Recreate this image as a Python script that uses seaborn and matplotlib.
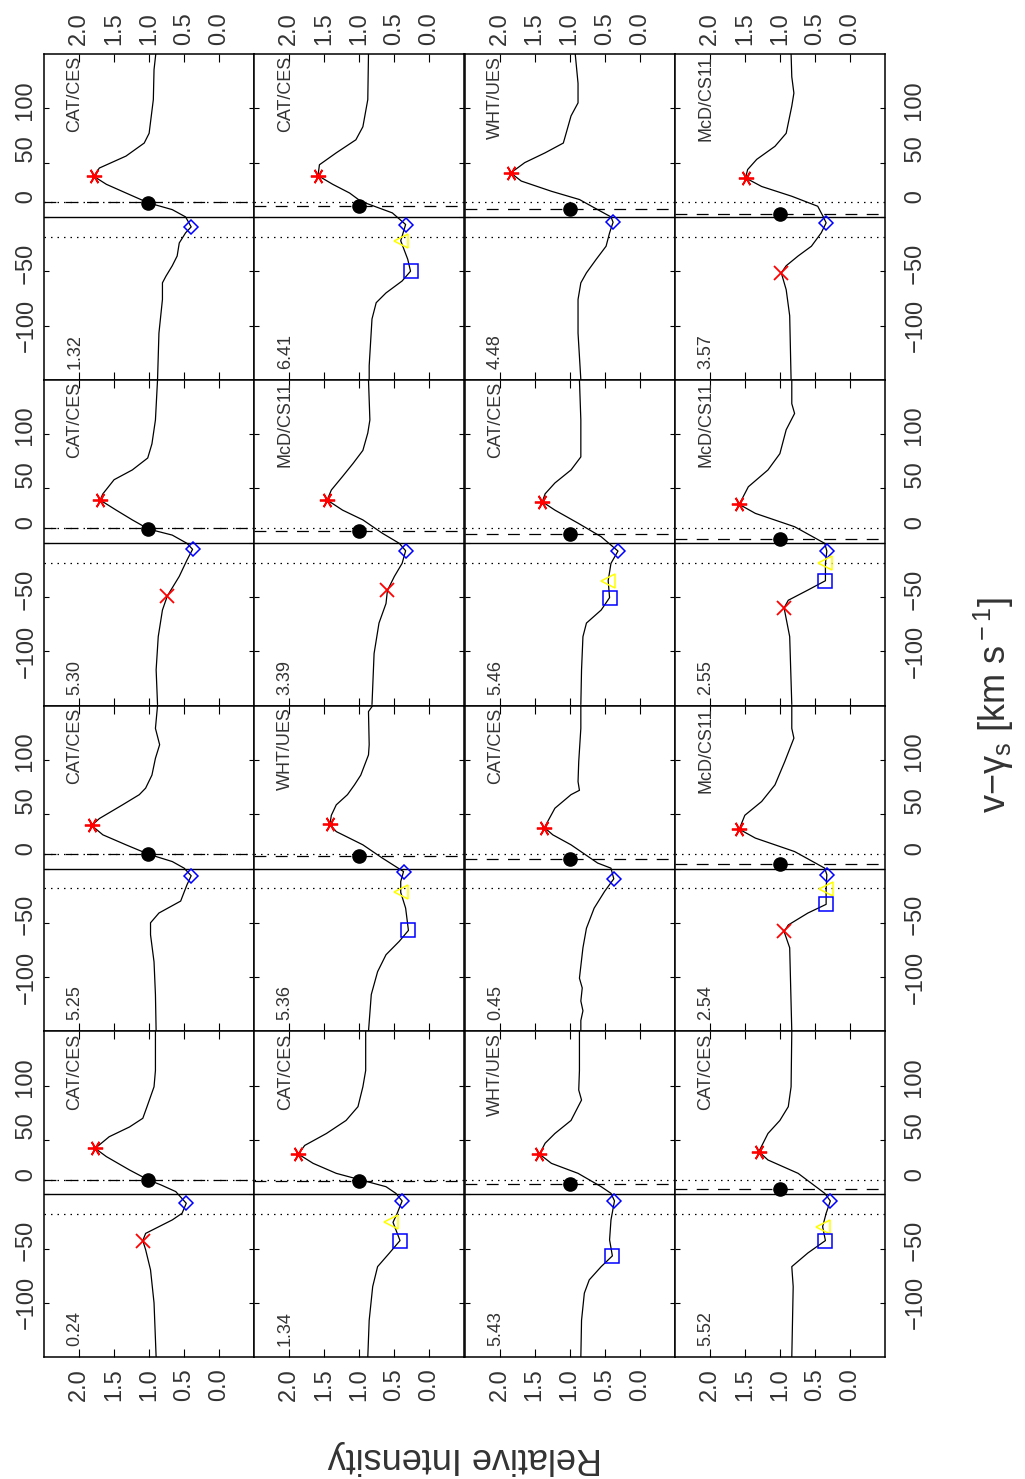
import logging
import numpy as np
import pandas as pd
import matplotlib
matplotlib.use("Agg")
import matplotlib.pyplot as plt
import seaborn as sns

logging.getLogger("matplotlib.font_manager").setLevel(logging.ERROR)

# ---------------- data ----------------
INSTRUMENTS = [["CAT/CES", "CAT/CES", "WHT/UES", "McD/CS11"],
               ["CAT/CES", "McD/CS11", "CAT/CES", "McD/CS11"],
               ["CAT/CES", "WHT/UES", "CAT/CES", "McD/CS11"],
               ["CAT/CES", "CAT/CES", "WHT/UES", "CAT/CES"]]
PHASES = [["1.32", "6.41", "4.48", "3.57"],
          ["5.30", "3.39", "5.46", "2.55"],
          ["5.25", "5.36", "0.45", "2.54"],
          ["0.24", "1.34", "5.43", "5.52"]]

INT_TICKS = [2.0, 1.5, 1.0, 0.5, 0.0]
INT_TICK_LABELS = ["2.0", "1.5", "1.0", "0.5", "0.0"]
VEL_TICKS = [-100, -50, 0, 50, 100]
VEL_TICK_LABELS = ["\u2212100", "  \u221250", "      0", "    50", "  100"]

# line profiles (velocity km/s, relative intensity), one pair per panel
VEL_R0C0 = [150, 135.6, 108, 77, 68, 56, 45, 37.4, 30, 22, 12.9, 6.7, 0, -9.2, -14.7, -24, -36, -45, -54.6, -60.7, -76, -107, -150]
INT_R0C0 = [0.905, 0.93, 0.94, 1.0, 1.07, 1.33, 1.71, 1.79, 1.61, 1.33, 1.01, 0.67, 0.48, 0.40, 0.48, 0.57, 0.60, 0.67, 0.76, 0.81, 0.81, 0.86, 0.88]
VEL_R0C1 = [150, 108, 83, 71, 59, 48, 38, 30, 22, 14.4, 3.7, -7, -22, -39, -50, -59, -70, -79, -94, -137, -150]
INT_R0C1 = [0.87, 0.88, 0.95, 1.05, 1.33, 1.57, 1.59, 1.38, 1.14, 0.98, 0.53, 0.34, 0.41, 0.31, 0.27, 0.39, 0.62, 0.76, 0.82, 0.86, 0.86]
VEL_R0C2 = [150, 123, 105, 93, 77, 68, 59, 50, 40.5, 33, 23.6, 16, 6.7, 0, -4.9, -14.7, -27, -39, -51.5, -60.7, -76, -107, -150]
INT_R0C2 = [0.92, 0.88, 0.88, 0.98, 1.05, 1.09, 1.35, 1.64, 1.84, 1.69, 1.26, 0.86, 0.60, 0.41, 0.38, 0.43, 0.48, 0.62, 0.76, 0.84, 0.88, 0.88, 0.84]
VEL_R0C3 = [150, 129, 114, 102, 77, 65, 53, 43.6, 35.9, 28, 19, 9.8, 0, -5.5, -14.7, -27, -36, -45, -51.5, -67, -91, -150]
INT_R0C3 = [0.84, 0.83, 0.80, 0.83, 0.91, 1.07, 1.33, 1.46, 1.49, 1.26, 0.83, 0.46, 0.38, 0.34, 0.41, 0.55, 0.74, 0.91, 0.98, 0.91, 0.86, 0.84]

VEL_R1C0 = [150, 113, 91, 78, 67, 58, 45, 39.3, 30, 21, 12.6, 7, -0.6, -6.1, -16, -31, -49, -62, -86.5, -117, -149]
INT_R1C0 = [0.88, 0.91, 0.96, 1.02, 1.24, 1.50, 1.66, 1.70, 1.47, 1.24, 1.01, 0.67, 0.46, 0.38, 0.46, 0.57, 0.74, 0.81, 0.87, 0.90, 0.88]
VEL_R1C1 = [150, 113, 101, 85, 73, 61, 48.5, 39.3, 30, 21, 8.6, -0.6, -7.4, -19, -31, -44, -56, -74, -102, -149]
INT_R1C1 = [0.87, 0.85, 0.88, 0.95, 1.09, 1.24, 1.40, 1.46, 1.24, 0.95, 0.67, 0.43, 0.34, 0.39, 0.50, 0.60, 0.62, 0.72, 0.79, 0.82]
VEL_R1C2 = [150, 113, 79, 67, 55, 45, 37.7, 30, 18, 5.5, -7.7, -19, -35, -50.6, -62, -74, -86.5, -117, -149]
INT_R1C2 = [0.86, 0.84, 0.84, 0.98, 1.21, 1.35, 1.39, 1.21, 0.88, 0.55, 0.31, 0.41, 0.45, 0.43, 0.55, 0.76, 0.81, 0.83, 0.84]
VEL_R1C3 = [150, 128, 119, 104, 82, 67, 51.5, 35.3, 27, 14.7, -0.6, -7.7, -19, -35, -43.6, -53, -60, -86.5, -149]
INT_R1C3 = [0.83, 0.83, 0.79, 0.91, 1.0, 1.17, 1.45, 1.58, 1.35, 0.79, 0.36, 0.33, 0.35, 0.35, 0.60, 0.88, 0.94, 0.86, 0.83]

VEL_R2C0 = [150, 129, 114, 101.5, 86, 74, 68, 58.6, 46, 39.6, 31, 21.8, 13.2, 6.4, 0.3, -6.7, -15, -30, -41, -50, -61, -86, -116, -150]
INT_R2C0 = [0.88, 0.91, 0.85, 0.91, 0.96, 1.05, 1.14, 1.38, 1.71, 1.82, 1.66, 1.33, 1.01, 0.67, 0.50, 0.40, 0.46, 0.55, 0.86, 0.98, 0.98, 0.93, 0.91, 0.90]
VEL_R2C1 = [150, 144.5, 114, 104.6, 86, 77, 68, 58.6, 49, 40.8, 34, 21.8, 9.5, -2.8, -12, -22, -36.5, -57, -67, -79.4, -95, -116, -150]
INT_R2C1 = [0.81, 0.87, 0.86, 0.87, 0.98, 1.07, 1.17, 1.33, 1.40, 1.42, 1.33, 0.95, 0.67, 0.37, 0.41, 0.41, 0.34, 0.30, 0.43, 0.62, 0.74, 0.83, 0.87]
VEL_R2C2 = [150, 129, 98.5, 80, 72, 68, 55.5, 37.7, 31, 21.8, 5, 0.3, -9.5, -21, -36.5, -55, -73, -101, -110, -122, -131, -140, -150]
INT_R2C2 = [0.84, 0.84, 0.87, 0.88, 0.86, 0.98, 1.21, 1.36, 1.24, 0.98, 0.60, 0.41, 0.37, 0.50, 0.65, 0.76, 0.81, 0.86, 0.82, 0.84, 0.81, 0.84, 0.84]
VEL_R2C3 = [150, 129, 120, 98.5, 77, 61.7, 49, 36.2, 28, 15.6, 0.3, -5.8, -19, -33, -41, -52, -58, -73, -150]
INT_R2C3 = [0.83, 0.83, 0.80, 0.93, 1.07, 1.26, 1.50, 1.58, 1.35, 0.79, 0.36, 0.33, 0.34, 0.34, 0.60, 0.88, 0.94, 0.86, 0.83]

VEL_R3C0 = [150, 130, 114, 99, 80.7, 70, 62, 53, 42.3, 34.7, 22.4, 13.2, 8.6, 2.5, -8.3, -17.5, -23.6, -29.8, -36, -42.6, -51, -69.6, -100, -150]
INT_R3C0 = [0.91, 0.91, 0.91, 0.93, 1.03, 1.09, 1.28, 1.57, 1.77, 1.61, 1.28, 1.01, 0.83, 0.62, 0.47, 0.53, 0.67, 0.86, 1.05, 1.09, 1.05, 0.98, 0.93, 0.90]
VEL_R3C1 = [150, 114, 99, 80.7, 68, 56, 45, 37, 28.5, 19.3, 7, 0.9, -6.1, -17.5, -25.8, -42.6, -54, -66.6, -85, -116, -150]
INT_R3C1 = [0.91, 0.91, 0.95, 1.02, 1.19, 1.47, 1.78, 1.87, 1.66, 1.33, 0.62, 0.48, 0.39, 0.46, 0.52, 0.42, 0.57, 0.74, 0.81, 0.86, 0.88]
VEL_R3C2 = [150, 114, 96, 86.8, 68, 56, 47, 37, 28.5, 19.3, 7, 0.9, -6.1, -23.6, -42, -56.7, -66.6, -78.8, -91, -116, -150]
INT_R3C2 = [0.86, 0.86, 0.87, 0.83, 0.98, 1.21, 1.35, 1.43, 1.26, 0.88, 0.55, 0.41, 0.36, 0.41, 0.43, 0.39, 0.55, 0.72, 0.79, 0.83, 0.84]
VEL_R3C3 = [150, 99, 80.7, 68, 56, 39.3, 31.6, 19.3, 0.9, -6.1, -17.5, -29.8, -42.6, -54, -66.6, -85, -150]
INT_R3C3 = [0.83, 0.84, 0.88, 1.0, 1.17, 1.30, 1.17, 0.74, 0.36, 0.28, 0.34, 0.39, 0.35, 0.60, 0.83, 0.81, 0.83]

PROFILE_VEL = [[VEL_R0C0, VEL_R0C1, VEL_R0C2, VEL_R0C3],
               [VEL_R1C0, VEL_R1C1, VEL_R1C2, VEL_R1C3],
               [VEL_R2C0, VEL_R2C1, VEL_R2C2, VEL_R2C3],
               [VEL_R3C0, VEL_R3C1, VEL_R3C2, VEL_R3C3]]
PROFILE_INT = [[INT_R0C0, INT_R0C1, INT_R0C2, INT_R0C3],
               [INT_R1C0, INT_R1C1, INT_R1C2, INT_R1C3],
               [INT_R2C0, INT_R2C1, INT_R2C2, INT_R2C3],
               [INT_R3C0, INT_R3C1, INT_R3C2, INT_R3C3]]

# measured features per panel
EMISSION_V = [[37.4, 38.0, 40.5, 35.9], [39.3, 39.3, 37.7, 35.3],
              [39.6, 40.8, 37.7, 36.2], [42.3, 37.0, 37.0, 39.3]]
EMISSION_I = [[1.79, 1.59, 1.84, 1.49], [1.70, 1.46, 1.39, 1.58],
              [1.82, 1.42, 1.36, 1.58], [1.77, 1.87, 1.43, 1.30]]
CENTROID_V = [[12.9, 10.4, 7.4, 3.1], [12.6, 10.4, 7.7, 3.1],
              [13.2, 11.3, 8.6, 4.0], [13.2, 12.0, 9.2, 4.9]]
CENTROID_I = [[1.01, 1.01, 1.00, 1.00], [1.01, 1.01, 1.00, 1.00],
              [1.01, 1.01, 1.00, 1.00], [1.01, 1.01, 1.00, 1.00]]
ABSMIN_V = [[-9.2, -7.0, -4.9, -5.5], [-6.1, -7.4, -7.7, -7.7],
            [-6.7, -2.8, -9.5, -5.8], [-8.3, -6.1, -6.1, -6.1]]
ABSMIN_I = [[0.40, 0.34, 0.38, 0.34], [0.38, 0.34, 0.31, 0.33],
            [0.40, 0.37, 0.37, 0.33], [0.47, 0.39, 0.36, 0.28]]
TRI_V = [[None, -22.0, None, None], [None, None, -35.0, -19.0],
         [None, -22.0, None, -19.0], [None, -25.8, None, -29.8]]
TRI_I = [[None, 0.41, None, None], [None, None, 0.45, 0.35],
         [None, 0.41, None, 0.34], [None, 0.55, None, 0.39]]
SQ_V = [[None, -50.0, None, None], [None, None, -50.6, -35.0],
        [None, -57.0, None, -33.0], [None, -42.6, -56.7, -42.6]]
SQ_I = [[None, 0.27, None, None], [None, None, 0.43, 0.35],
        [None, 0.30, None, 0.34], [None, 0.42, 0.39, 0.35]]
X_V = [[None, None, None, -51.5], [-49.0, -44.0, None, -60.0],
       [None, None, None, -58.0], [-42.6, None, None, None]]
X_I = [[None, None, None, 0.98], [0.74, 0.60, None, 0.94],
       [None, None, None, 0.94], [1.09, None, None, None]]
DASHED_V = [[13.3, 9.9, 6.9, 2.9], [13.3, 10.5, 7.7, 3.1],
            [13.3, 11.3, 8.6, 4.0], [13.3, 12.0, 9.2, 4.9]]
DOTTED_V = [13.3, -18.4]
SOLID_V = 0.0

# ---------------- styling ----------------
sns.set_theme(style="white", rc={"axes.edgecolor": "black",
                                 "axes.linewidth": 1.1,
                                 "xtick.color": "black", "ytick.color": "black",
                                 "axes.facecolor": "white", "figure.facecolor": "white"})
plt.rcParams["font.family"] = ["Liberation Sans", "DejaVu Sans"]
plt.rcParams["mathtext.fontset"] = "custom"
plt.rcParams["mathtext.rm"] = "Liberation Sans"
plt.rcParams["mathtext.it"] = "Liberation Sans:italic"
plt.rcParams["mathtext.bf"] = "Liberation Sans:bold"
plt.rcParams["axes.unicode_minus"] = True

W, H = 1025, 1479
X0, Y0 = 44.0, 54.0
PW, PH = 210.25, 325.8
TXT = "#333333"

fig = plt.figure(figsize=(W / 100, H / 100), dpi=100)

for r in range(4):
    for c in range(4):
        ax = fig.add_axes([(X0 + c * PW) / W, 1 - (Y0 + (r + 1) * PH) / H, PW / W, PH / H])
        ax.set_xlim(2.5, -0.5)
        ax.set_ylim(-150, 150)

        df = pd.DataFrame({"intensity": PROFILE_INT[r][c], "velocity": PROFILE_VEL[r][c]})
        sns.lineplot(data=df, x="intensity", y="velocity", sort=False, estimator=None,
                     orient="y", color="black", lw=0.9, ax=ax)

        ax.axhline(SOLID_V, color="black", lw=1.0, zorder=1)
        for dv in DOTTED_V:
            ax.axhline(dv, color="black", lw=0.9, ls=(0, (1.2, 4.0)), zorder=1)
        ax.axhline(DASHED_V[r][c], color="black", lw=0.9, ls=(0, (9.5, 7.5)), zorder=1)

        ax.plot(EMISSION_I[r][c], EMISSION_V[r][c], ls="none", marker=(6, 2, 90),
                ms=11, mew=1.3, color="red", zorder=5)
        ax.plot(CENTROID_I[r][c], CENTROID_V[r][c], ls="none", marker="o",
                ms=9.5, color="black", zorder=5)
        ax.plot(ABSMIN_I[r][c], ABSMIN_V[r][c], ls="none", marker="D", ms=7,
                mfc="none", mec="blue", mew=1.1, zorder=5)
        if TRI_V[r][c] is not None:
            ax.plot(TRI_I[r][c], TRI_V[r][c], ls="none", marker="<", ms=9.5,
                    mfc="none", mec="yellow", mew=1.1, zorder=5)
        if SQ_V[r][c] is not None:
            ax.plot(SQ_I[r][c], SQ_V[r][c], ls="none", marker="s", ms=10,
                    mfc="none", mec="blue", mew=1.1, zorder=5)
        if X_V[r][c] is not None:
            ax.plot(X_I[r][c], X_V[r][c], ls="none", marker="x", ms=10,
                    mec="red", mew=1.3, zorder=5)

        ax.set_xticks(INT_TICKS, INT_TICK_LABELS, rotation=90)
        ax.set_yticks(VEL_TICKS, VEL_TICK_LABELS, rotation=90, va="center")
        ax.tick_params(axis="x", direction="in", top=True, bottom=True, length=5.5,
                       width=0.8, labelsize=17, labelcolor=TXT,
                       labeltop=(r == 0), labelbottom=(r == 3),
                       pad=(6.5 if r == 0 else 8.0))
        ax.tick_params(axis="y", direction="in", left=True, right=True, length=3.5,
                       width=0.8, labelsize=17, labelcolor=TXT,
                       labelleft=(c == 0), labelright=(c == 3),
                       pad=(4.1 if c == 0 else 14.4))
        ax.set_xlabel("")
        ax.set_ylabel("")
        ax.grid(False)

        ax.text(0.107, 0.994, INSTRUMENTS[r][c], transform=ax.transAxes, rotation=90,
                ha="left", va="top", fontsize=13, color=TXT)
        ax.text(0.107, 0.034, PHASES[r][c], transform=ax.transAxes, rotation=90,
                ha="left", va="bottom", fontsize=13, color=TXT)

fig.text(465 / W, 1 - 1458 / H, "Relative Intensity", rotation=180,
         ha="center", va="center", fontsize=26, color=TXT)
fig.text(994 / W, 1 - 705 / H, "v\u2212\u03b3$_{\\rm s}$ [km s$^{\\rm -1}$]", rotation=90,
         ha="center", va="center", fontsize=26, color=TXT)

fig.savefig("out.png", dpi=100, facecolor="white")
